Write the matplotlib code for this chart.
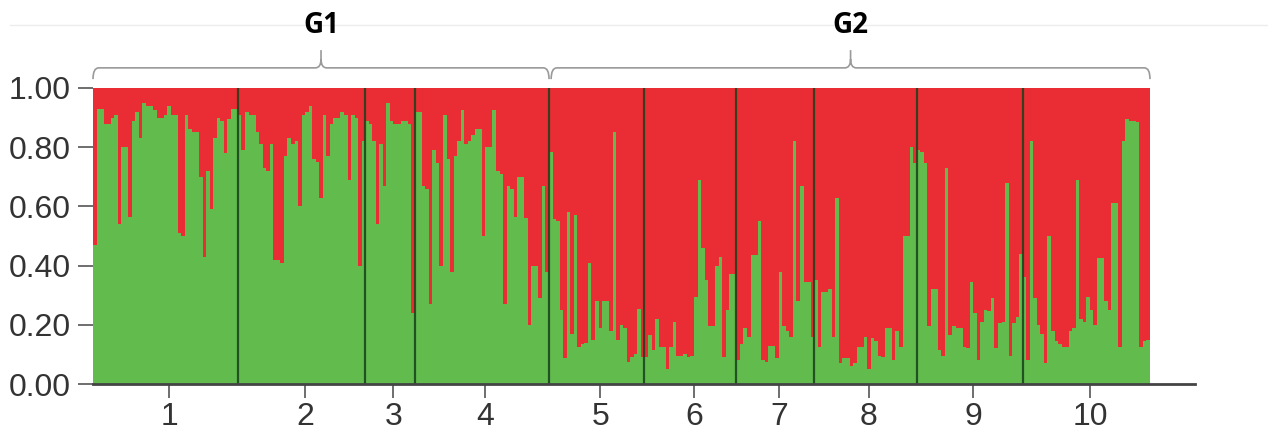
import numpy as np
import matplotlib.pyplot as plt
from matplotlib.path import Path
from matplotlib.patches import PathPatch
from matplotlib.lines import Line2D

# membership coefficient (green cluster) per individual, one list per population
pop1 = [0.47, 0.93, 0.93, 0.88, 0.88, 0.90, 0.91, 0.54, 0.80, 0.80, 0.565, 0.89, 0.92, 0.83,
        0.95, 0.94, 0.94, 0.925, 0.90, 0.90, 0.91, 0.94, 0.91, 0.91, 0.51, 0.50, 0.91, 0.86,
        0.85, 0.85, 0.70, 0.43, 0.72, 0.59, 0.83, 0.90, 0.89, 0.78, 0.895, 0.93, 0.93]
pop2 = [0.91, 0.79, 0.92, 0.91, 0.91, 0.85, 0.81, 0.73, 0.72, 0.81, 0.42, 0.42, 0.41, 0.77,
        0.83, 0.81, 0.82, 0.60, 0.91, 0.92, 0.94, 0.76, 0.75, 0.63, 0.91, 0.77, 0.88, 0.90,
        0.90, 0.92, 0.91, 0.69, 0.91, 0.90, 0.40, 0.82]
pop3 = [0.89, 0.88, 0.82, 0.54, 0.81, 0.67, 0.95, 0.89, 0.88, 0.88, 0.89, 0.89, 0.88, 0.24]
pop4 = [0.92, 0.92, 0.67, 0.66, 0.27, 0.79, 0.745, 0.40, 0.91, 0.76, 0.38, 0.77, 0.82, 0.925,
        0.81, 0.82, 0.84, 0.86, 0.86, 0.50, 0.80, 0.80, 0.925, 0.72, 0.71, 0.27, 0.67, 0.66,
        0.565, 0.70, 0.70, 0.56, 0.20, 0.40, 0.40, 0.29, 0.67, 0.38]
pop5 = [0.785, 0.556, 0.55, 0.25, 0.087, 0.58, 0.17, 0.57, 0.125, 0.135, 0.14, 0.41, 0.15,
        0.28, 0.19, 0.28, 0.28, 0.18, 0.85, 0.15, 0.20, 0.19, 0.075, 0.09, 0.10, 0.255, 0.09]
pop6 = [0.09, 0.165, 0.115, 0.22, 0.125, 0.125, 0.05, 0.125, 0.21, 0.095, 0.095, 0.10, 0.09,
        0.095, 0.295, 0.69, 0.46, 0.35, 0.195, 0.195, 0.40, 0.43, 0.09, 0.25, 0.37, 0.37]
pop7 = [0.08, 0.135, 0.19, 0.16, 0.435, 0.435, 0.55, 0.08, 0.075, 0.13, 0.13, 0.087, 0.38,
        0.195, 0.18, 0.16, 0.82, 0.28, 0.67, 0.345, 0.345, 0.16]
pop8 = [0.35, 0.125, 0.31, 0.31, 0.32, 0.16, 0.63, 0.07, 0.087, 0.087, 0.06, 0.07, 0.125,
        0.125, 0.16, 0.05, 0.155, 0.145, 0.095, 0.09, 0.19, 0.19, 0.08, 0.18, 0.125, 0.50,
        0.50, 0.80, 0.745]
pop9 = [0.79, 0.785, 0.745, 0.195, 0.32, 0.32, 0.115, 0.095, 0.73, 0.165, 0.195, 0.19, 0.19,
        0.125, 0.12, 0.345, 0.24, 0.08, 0.21, 0.25, 0.245, 0.29, 0.12, 0.205, 0.21, 0.68,
        0.095, 0.205, 0.225, 0.44]
pop10 = [0.36, 0.08, 0.82, 0.29, 0.20, 0.17, 0.07, 0.50, 0.18, 0.145, 0.135, 0.125, 0.125,
         0.18, 0.19, 0.69, 0.22, 0.21, 0.295, 0.25, 0.20, 0.425, 0.425, 0.28, 0.25, 0.61,
         0.61, 0.125, 0.82, 0.895, 0.89, 0.89, 0.885, 0.125, 0.145, 0.15]

pops = [pop1, pop2, pop3, pop4, pop5, pop6, pop7, pop8, pop9, pop10]
pop_labels = ['1', '2', '3', '4', '5', '6', '7', '8', '9', '10']
group_names = ['G1', 'G2']
group_sizes = [4, 6]  # populations per group

green = '#62bb4d'
red = '#ea2d34'

q = np.concatenate(pops)
n = len(q)
x = np.arange(n)
ends = np.cumsum([len(p) for p in pops])
starts = ends - np.array([len(p) for p in pops])

fig = plt.figure(figsize=(12.68, 4.36), dpi=100)
# faint rule behind the group labels
fig.add_artist(Line2D([10/1268, 1], [1 - 25/436] * 2, color='#ececec', lw=1, zorder=-5))

ax = fig.add_axes([93/1268, 52/436, (1195-93)/1268, 296/436])
ax.patch.set_alpha(0)

ax.bar(x, q, width=1, align='edge', color=green, linewidth=0)
ax.bar(x, 1 - q, bottom=q, width=1, align='edge', color=red, linewidth=0)
for b in ends[:-1]:
    ax.axvline(b, color='#17401a', lw=1.6, alpha=0.85)

ax.set_xlim(0, n * 1102 / 1057)
ax.set_ylim(0, 1)

for s in ['top', 'right', 'left']:
    ax.spines[s].set_visible(False)
ax.spines['bottom'].set_linewidth(2)
ax.spines['bottom'].set_color('#444444')

ax.set_yticks(np.arange(0, 1.01, 0.2))
ax.set_yticklabels(['%.2f' % v for v in np.arange(0, 1.01, 0.2)])
ax.set_xticks((starts + ends) / 2 + 1)
ax.set_xticklabels(pop_labels)
ax.tick_params(axis='y', length=11, width=1.2, color='#555555', labelsize=23,
               labelcolor='#333333', pad=5)
ax.tick_params(axis='x', length=10, width=1.2, color='#555555', labelsize=23,
               labelcolor='#333333', pad=3)
for t in ax.get_xticklabels() + ax.get_yticklabels():
    t.set_fontfamily('Liberation Sans')

# braces over the two groups
def brace(x0, x1, label):
    y, yend, ypk, r = 1.068, 1.030, 1.128, 1.6
    xm = (x0 + x1) / 2
    verts = [(x0, yend), (x0, y), (x0 + r, y), (xm - r, y), (xm, y), (xm, y + 0.03), (xm, ypk),
             (xm, y + 0.03), (xm, y), (xm + r, y), (x1 - r, y), (x1, y), (x1, yend)]
    codes = [Path.MOVETO, Path.CURVE3, Path.CURVE3, Path.LINETO, Path.CURVE3, Path.CURVE3,
             Path.LINETO, Path.MOVETO, Path.CURVE3, Path.CURVE3, Path.LINETO, Path.CURVE3,
             Path.CURVE3]
    ax.add_patch(PathPatch(Path(verts, codes), fill=False, ec='#9a9a9a', lw=1.2,
                           clip_on=False))
    ax.text(xm, 1.21, label, ha='center', va='center', fontsize=20, fontweight='bold',
            family='Open Sans', color='black', clip_on=False)

g_end = ends[group_sizes[0] - 1]
brace(0, g_end, group_names[0])
brace(g_end + 0.6, n, group_names[1])

fig.savefig('out.png', dpi=100, facecolor='white')
